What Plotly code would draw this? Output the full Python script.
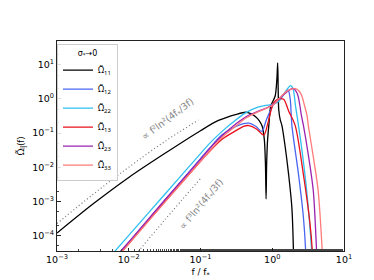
import plotly.graph_objects as go

# ---- data (log10 values) ----
LOGF_11 = [-3.0, -2.5, -2.0, -1.5, -1.0, -0.75, -0.5, -0.37, -0.3, -0.232, -0.18, -0.14, -0.11, -0.095, -0.086,
           -0.078, -0.065, -0.048, -0.02, 0.04, 0.065, 0.076, 0.09, 0.11, 0.135, 0.18, 0.228, 0.273, 0.297, 0.305]
LOGO_11 = [-3.93, -3.08, -2.3, -1.6, -0.93, -0.63, -0.45, -0.39, -0.43, -0.52, -0.64, -0.8, -1.2, -1.9, -2.93,
           -1.9, -1.2, -0.78, -0.2, 0.08, 0.6, 1.06, -0.3, -0.6, -0.78, -1.4, -2.21, -3.17, -4.6, -6.0]

LOGF_12 = [-2.15, -2.0, -1.5, -1.0, -0.876, -0.7, -0.5, -0.4, -0.324, -0.23, -0.145, -0.08, 0.02, 0.09, 0.16,
           0.22, 0.25, 0.274, 0.366, 0.434, 0.466, 0.48]
LOGO_12 = [-4.55, -4.2, -2.97, -1.75, -1.45, -1.05, -0.8, -0.72, -0.71, -0.8, -0.95, -0.6, -0.15, 0.0, 0.15,
           0.27, 0.0, -0.78, -2.21, -3.46, -4.46, -5.5]

LOGF_22 = [-2.25, -2.0, -1.5, -1.0, -0.876, -0.7, -0.5, -0.366, -0.2, -0.066, 0.02, 0.1, 0.18, 0.255, 0.29,
           0.324, 0.366, 0.42, 0.48, 0.55, 0.58]
LOGO_22 = [-4.6, -4.0, -2.8, -1.6, -1.31, -0.95, -0.6, -0.40, -0.24, -0.18, -0.15, -0.05, 0.2, 0.39, 0.3,
           -0.2, -0.78, -1.6, -2.69, -4.46, -5.5]

LOGF_13 = [-2.15, -2.0, -1.5, -1.0, -0.876, -0.7, -0.5, -0.4, -0.324, -0.22, -0.117, -0.06, 0.02, 0.09, 0.159,
           0.228, 0.32, 0.434, 0.526, 0.559, 0.58]
LOGO_13 = [-4.6, -4.24, -3.02, -1.83, -1.54, -1.18, -0.92, -0.8, -0.78, -0.88, -1.06, -0.7, -0.11, 0.0, -0.01,
           -0.35, -0.78, -2.21, -3.65, -4.46, -5.5]

LOGF_23 = [-2.15, -2.0, -1.5, -1.0, -0.876, -0.7, -0.5, -0.366, -0.2, -0.066, 0.02, 0.1, 0.2, 0.29, 0.35,
           0.407, 0.435, 0.5, 0.572, 0.618, 0.64]
LOGO_23 = [-4.55, -4.2, -2.97, -1.77, -1.46, -1.08, -0.72, -0.52, -0.36, -0.25, -0.15, 0.0, 0.2, 0.31, 0.15,
           -0.49, -0.78, -1.6, -2.69, -4.46, -5.5]

LOGF_33 = [-2.15, -2.0, -1.5, -1.0, -0.876, -0.7, -0.5, -0.366, -0.2, -0.066, 0.02, 0.13, 0.22, 0.324, 0.40,
           0.45, 0.485, 0.503, 0.58, 0.64, 0.697, 0.72]
LOGO_33 = [-4.62, -4.25, -3.03, -1.83, -1.53, -1.12, -0.78, -0.56, -0.38, -0.26, -0.16, 0.086, 0.25, 0.30, 0.15,
           -0.2, -0.49, -0.78, -1.8, -2.69, -4.46, -5.5]

LOGF_DOT_A = [-3.0, -2.5, -2.0, -1.5, -1.03]
LOGO_DOT_A = [-3.65, -2.8, -2.0, -1.25, -0.62]
LOGF_DOT_B = [-1.9, -1.5, -0.99]
LOGO_DOT_B = [-4.55, -3.55, -2.31]

NAMES = ["Ω̃<sub>11</sub>", "Ω̃<sub>12</sub>", "Ω̃<sub>22</sub>",
         "Ω̃<sub>13</sub>", "Ω̃<sub>23</sub>", "Ω̃<sub>33</sub>"]
COLORS = ["#000000", "#4a66f0", "#2fbff0", "#e8101a", "#9a22b0", "#ff7a7a"]
X_TICKS = [1e-3, 1e-2, 1e-1, 1e0, 1e1]
X_TICKTEXT = ["10<sup>−3</sup>", "10<sup>−2</sup>", "10<sup>−1</sup>", "10<sup>0</sup>", "10<sup>1</sup>"]
Y_TICKS = [1e-4, 1e-3, 1e-2, 1e-1, 1e0, 1e1]
Y_TICKTEXT = ["10<sup>−4</sup>", "10<sup>−3</sup>", "10<sup>−2</sup>", "10<sup>−1</sup>", "10<sup>0</sup>", "10<sup>1</sup>"]

series = [(LOGF_11, LOGO_11), (LOGF_12, LOGO_12), (LOGF_22, LOGO_22),
          (LOGF_13, LOGO_13), (LOGF_23, LOGO_23), (LOGF_33, LOGO_33)]

fig = go.Figure()
for (lf, lo), name, col in zip(series, NAMES, COLORS):
    fig.add_trace(go.Scatter(
        x=[10 ** v for v in lf], y=[10 ** v for v in lo], mode="lines", name=name,
        line=dict(color=col, width=1.3, shape="spline", smoothing=0.8)))

for lf, lo in [(LOGF_DOT_A, LOGO_DOT_A), (LOGF_DOT_B, LOGO_DOT_B)]:
    fig.add_trace(go.Scatter(
        x=[10 ** v for v in lf], y=[10 ** v for v in lo], mode="lines", showlegend=False,
        line=dict(color="#777777", width=1.2, dash="1px,2.5px", shape="spline")))

FONT = "DejaVu Sans"
FONT_T = "Noto Sans"
fig.add_annotation(x=-1.45, y=-0.6, xref="x", yref="y", showarrow=False,
                   text="∝ f²ln²(4f<sub>*</sub>/3f)", textangle=-37,
                   font=dict(family=FONT, size=9.5, color="#888888"))
fig.add_annotation(x=-0.98, y=-3.1, xref="x", yref="y", showarrow=False,
                   text="∝ f³ln²(4f<sub>*</sub>/3f)", textangle=-50,
                   font=dict(family=FONT, size=9.5, color="#888888"))

axis_common = dict(type="log", showgrid=False, zeroline=False, showline=True, mirror=True,
                   linecolor="#222222", linewidth=1, ticks="inside", ticklen=3.5, tickcolor="#222222",
                   tickfont=dict(family=FONT, size=9.5, color="#000000"),
                   minor=dict(ticks="inside", ticklen=2, tickcolor="#444444", showgrid=False))

fig.update_layout(
    width=374, height=280,
    margin=dict(l=46, r=38, t=33, b=32),
    paper_bgcolor="white", plot_bgcolor="white",
    font=dict(family=FONT, size=9, color="#000000"),
    xaxis=dict(range=[-3, 1], tickvals=X_TICKS, ticktext=X_TICKTEXT,
               title=dict(text="f / f<sub>*</sub>", font=dict(family=FONT, size=9), standoff=4),
               **axis_common),
    yaxis=dict(range=[-4.456, 1.699], tickvals=Y_TICKS, ticktext=Y_TICKTEXT,
               title=dict(text="Ω̃<sub>ij</sub>(f)", font=dict(family=FONT_T, size=9), standoff=6),
               **axis_common),
    legend=dict(x=0.0, y=0.985, xanchor="left", yanchor="top",
                bgcolor="rgba(255,255,255,0.85)", bordercolor="#cccccc", borderwidth=1,
                font=dict(family=FONT_T, size=8.5), itemwidth=30, tracegroupgap=0,
                title=dict(text="σ<sub>*</sub>→0", side="top center", font=dict(family=FONT, size=8))),
)

fig.write_html("out.html")
